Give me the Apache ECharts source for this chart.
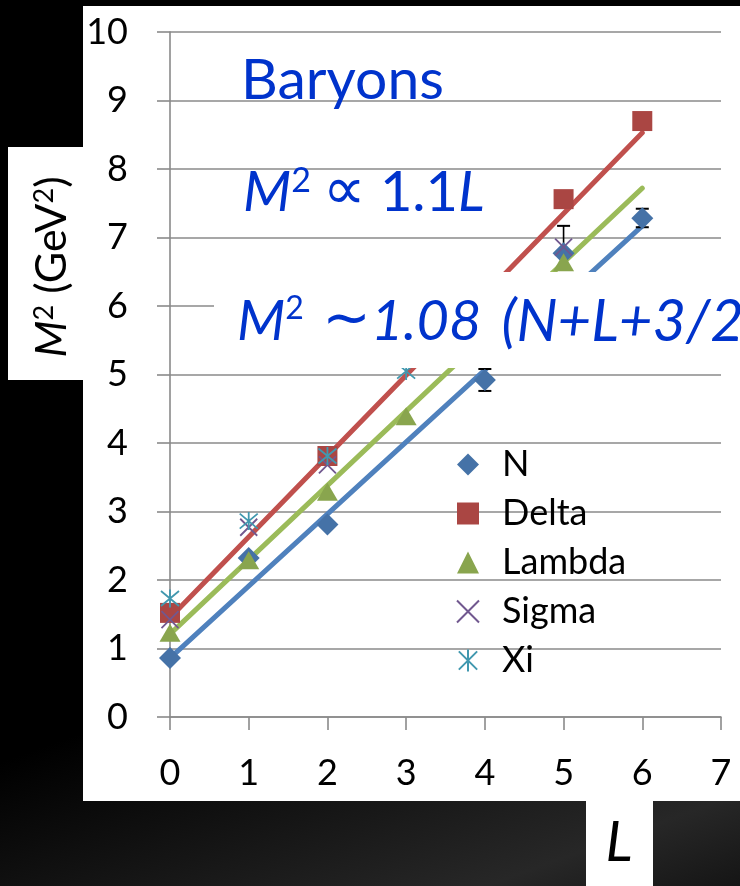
<!DOCTYPE html>
<html><head><meta charset="utf-8">
<script src="https://cdn.jsdelivr.net/npm/echarts@6/dist/echarts.min.js"></script>
<style>
html,body{margin:0;padding:0;width:740px;height:886px;overflow:hidden;background:#000}
#c{width:740px;height:886px;background:linear-gradient(160deg,#000 0%,#000 66%,#181818 82%,#272727 92%,#151515 100%);}
</style>
</head><body><div id="c"></div>
<script>
// ---- data ----
const xTicks = [0, 1, 2, 3, 4, 5, 6, 7];
const yTicks = [0, 1, 2, 3, 4, 5, 6, 7, 8, 9, 10];
const Lvals = [0, 1, 2, 3, 4, 5, 6];
const nVals      = [0.86, 2.32, 2.81, null, 4.92, 6.77, 7.28];
const deltaVals  = [1.52, null, 3.81, null, null, 7.56, 8.70];
const lambdaVals = [1.23, 2.29, 3.29, 4.39, null, 6.64, null];
const sigmaVals  = [1.42, 2.77, 3.68, null, null, 6.86, null];
const xiVals     = [1.73, 2.86, 3.81, 5.05, null, null, null];
// trend lines: values at L = trendL[0] and trendL[1]
const trendL      = [0, 6];
const nTrend      = [0.86, 7.17];
const deltaTrend  = [1.45, 8.53];
const lambdaTrend = [1.21, 7.72];
// error bars: [L, low, high]
const nErr     = [[4, 4.76, 5.08], [6, 7.15, 7.42]];
const sigmaErr = [[5, 6.56, 7.17]];

const FONT = 'Lato, "Noto Sans", sans-serif';
const pts = vals => Lvals.map((l, i) => vals[i] == null ? null : [l, vals[i]]).filter(Boolean);
const trend = v => trendL.map((l, i) => [l, v[i]]);

const chart = echarts.init(document.getElementById('c'), null, {renderer: 'canvas'});

function errItem(params, api) {
  const x = api.value(0), lo = api.value(1), hi = api.value(2);
  const a = api.coord([x, lo]), b = api.coord([x, hi]);
  const w = 6.5;
  const st = {stroke: '#000', lineWidth: 1.6};
  return {type: 'group', children: [
    {type: 'line', shape: {x1: a[0], y1: a[1], x2: b[0], y2: b[1]}, style: st},
    {type: 'line', shape: {x1: a[0] - w, y1: a[1], x2: a[0] + w, y2: a[1]}, style: {stroke: '#000', lineWidth: 2}},
    {type: 'line', shape: {x1: b[0] - w, y1: b[1], x2: b[0] + w, y2: b[1]}, style: {stroke: '#000', lineWidth: 2}}
  ]};
}

const GRID_C = '#8a8a8a';
const BLUE = '#0033CC';
const option = {
  backgroundColor: 'transparent',
  animation: false,
  grid: {left: 170, right: 19, top: 32, bottom: 169, outerBoundsMode: 'none', containLabel: false},
  xAxis: {
    type: 'value', min: xTicks[0], max: xTicks[xTicks.length - 1], interval: 1,
    axisLine: {show: true, lineStyle: {color: GRID_C, width: 1.6}},
    axisTick: {show: true, length: 13, lineStyle: {color: GRID_C, width: 1.6}},
    splitLine: {show: false},
    axisLabel: {color: '#000', fontSize: 36, fontFamily: FONT, margin: 38}
  },
  yAxis: {
    type: 'value', min: yTicks[0], max: yTicks[yTicks.length - 1], interval: 1,
    axisLine: {show: true, lineStyle: {color: GRID_C, width: 1.6}},
    axisTick: {show: true, length: 13, lineStyle: {color: GRID_C, width: 1.6}},
    splitLine: {show: true, lineStyle: {color: GRID_C, width: 1.6}},
    axisLabel: {color: '#000', fontSize: 36, fontFamily: FONT, margin: 42}
  },
  legend: {
    orient: 'vertical', left: 456, top: 446, padding: 0,
    itemWidth: 22, itemHeight: 22, itemGap: 12,
    data: ['N', 'Delta', 'Lambda', 'Sigma', 'Xi'],
    textStyle: {color: '#000', fontSize: 36, fontFamily: FONT, lineHeight: 37, padding: [0, 0, 0, 18]}
  },
  series: [
    {type: 'line', name: 'nTrend', data: trend(nTrend), showSymbol: false, z: 2,
     lineStyle: {color: '#4F81BD', width: 5, cap: 'round'}},
    {type: 'line', name: 'deltaTrend', data: trend(deltaTrend), showSymbol: false, z: 2,
     lineStyle: {color: '#C0504D', width: 5, cap: 'round'}},
    {type: 'line', name: 'lambdaTrend', data: trend(lambdaTrend), showSymbol: false, z: 2,
     lineStyle: {color: '#9BBB59', width: 5, cap: 'round'}},
    {type: 'custom', name: 'nErr', data: nErr, renderItem: errItem, z: 3, encode: {x: 0, y: [1, 2]}},
    {type: 'custom', name: 'sigmaErr', data: sigmaErr, renderItem: errItem, z: 3, encode: {x: 0, y: [1, 2]}},
    {type: 'scatter', name: 'N', data: pts(nVals), symbol: 'diamond', symbolSize: 22, z: 4,
     itemStyle: {color: '#4572A7', opacity: 1}},
    {type: 'scatter', name: 'Delta', data: pts(deltaVals), symbol: 'rect', symbolSize: 20, z: 4,
     itemStyle: {color: '#AA4643', opacity: 1}},
    {type: 'scatter', name: 'Lambda', data: pts(lambdaVals), symbol: 'triangle', symbolSize: [21, 18], z: 4,
     itemStyle: {color: '#89A54E', opacity: 1}},
    {type: 'scatter', name: 'Sigma', data: pts(sigmaVals), symbol: 'path://M0,0L10,10M10,0L0,10', symbolSize: 17, z: 4,
     itemStyle: {color: 'rgba(0,0,0,0)', borderColor: '#71588F', borderWidth: 1.8, opacity: 1}},
    {type: 'scatter', name: 'Xi', data: pts(xiVals), symbol: 'path://M0,0L10,10M10,0L0,10M5,-1L5,11', symbolSize: 18, z: 4,
     itemStyle: {color: 'rgba(0,0,0,0)', borderColor: '#4198AF', borderWidth: 1.8, opacity: 1}}
  ],
  graphic: [
    // white slide panels
    {type: 'rect', z: -100, shape: {x: 83, y: 6, width: 660, height: 795}, style: {fill: '#fff'}},
    {type: 'rect', z: -100, shape: {x: 8, y: 147, width: 80, height: 233}, style: {fill: '#fff'}},
    {type: 'rect', z: -100, shape: {x: 586, y: 798, width: 67, height: 90}, style: {fill: '#fff'}},
    // y axis title
    {type: 'text', z: 50, x: 52, y: 267, rotation: Math.PI / 2,
     style: {text: '{i|M}{s|2}{n| (GeV}{s|2}{n|)}', align: 'center', verticalAlign: 'middle',
       textAlign: 'center', textVerticalAlign: 'middle',
       rich: {
         i: {fontSize: 43, fontStyle: 'italic', fontFamily: FONT, fill: '#000', lineHeight: 43},
         n: {fontSize: 43, fontFamily: FONT, fill: '#000', lineHeight: 43},
         s: {fontSize: 27, fontFamily: FONT, fill: '#000', lineHeight: 27, verticalAlign: 'top'}
       }}},
    // x axis title
    {type: 'text', z: 50, x: 619, y: 843,
     style: {text: 'L', fontSize: 57, fontStyle: 'italic', fontFamily: FONT, fill: '#000',
       align: 'center', verticalAlign: 'middle', textAlign: 'center', textVerticalAlign: 'middle'}},
    // annotations
    {type: 'text', z: 50, x: 241, y: 81,
     style: {text: 'Baryons', fontSize: 57, fontFamily: FONT, fill: BLUE,
       align: 'left', verticalAlign: 'middle', textAlign: 'left', textVerticalAlign: 'middle'}},
    {type: 'text', z: 50, x: 243, y: 193,
     style: {text: '{i|M}{s|2}{p|\u221D}{n|1.1}{i|L}', align: 'left', verticalAlign: 'middle',
       textAlign: 'left', textVerticalAlign: 'middle',
       rich: {
         i: {fontSize: 56, fontStyle: 'italic', fontFamily: FONT, fill: BLUE, lineHeight: 58},
         n: {fontSize: 56, fontFamily: FONT, fill: BLUE, lineHeight: 58},
         p: {fontSize: 60, fontFamily: '"DejaVu Sans", sans-serif', fill: BLUE, lineHeight: 58, padding: [0, 14, 0, 12]},
         s: {fontSize: 34, fontFamily: FONT, fill: BLUE, lineHeight: 34, verticalAlign: 'top'}
       }}},
    {type: 'rect', z: 60, shape: {x: 214, y: 272, width: 530, height: 96}, style: {fill: '#fff'}},
    {type: 'text', z: 61, x: 237, y: 322,
     style: {text: '{i|M}{s|2}{t| \u223C}{i|1.08}{q|(N+L+3/2)}', align: 'left', verticalAlign: 'middle',
       textAlign: 'left', textVerticalAlign: 'middle',
       rich: {
         i: {fontSize: 56, fontStyle: 'italic', fontFamily: FONT, fill: BLUE, lineHeight: 58},
         q: {fontSize: 58, fontStyle: 'italic', fontFamily: FONT, fill: BLUE, lineHeight: 58, padding: [0, 0, 0, 20]},
         t: {fontSize: 58, fontFamily: '"DejaVu Sans", sans-serif', fill: BLUE, lineHeight: 58},
         s: {fontSize: 32, fontFamily: FONT, fill: BLUE, lineHeight: 32, verticalAlign: 'top'}
       }}}
  ]
};
chart.setOption(option);
</script>
</body></html>
